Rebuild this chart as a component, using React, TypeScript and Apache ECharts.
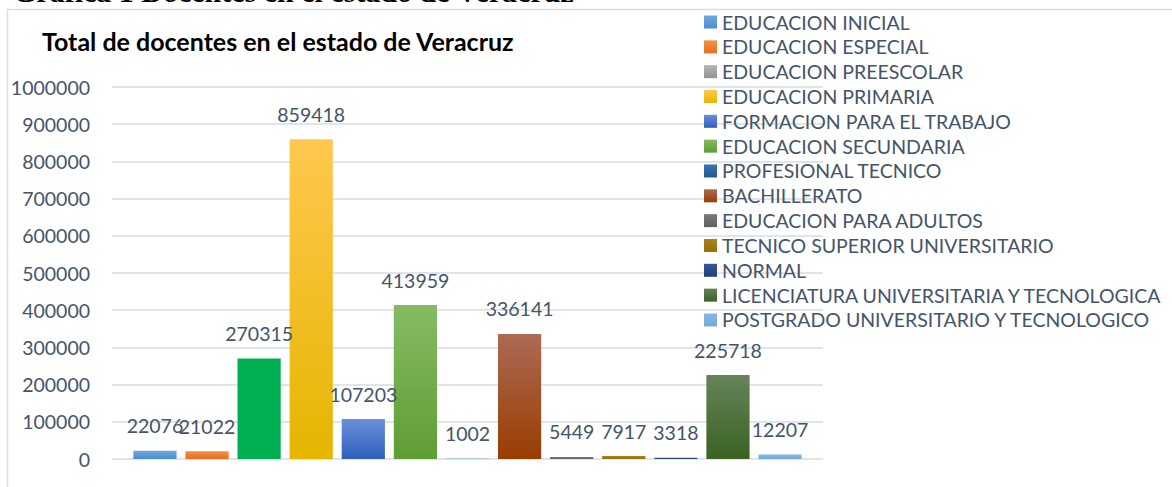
import React, { useEffect, useRef } from "react";
import * as echarts from "echarts";

const chartTitle = "Total de docentes en el estado de Veracruz";
const captionText = "Gráfica 1 Docentes en el estado de Veracruz";
const categories = ["Total"];
const seriesNames = [
  "EDUCACION INICIAL",
  "EDUCACION ESPECIAL",
  "EDUCACION PREESCOLAR",
  "EDUCACION PRIMARIA",
  "FORMACION PARA EL TRABAJO",
  "EDUCACION SECUNDARIA",
  "PROFESIONAL TECNICO",
  "BACHILLERATO",
  "EDUCACION PARA ADULTOS",
  "TECNICO SUPERIOR UNIVERSITARIO",
  "NORMAL",
  "LICENCIATURA UNIVERSITARIA Y TECNOLOGICA",
  "POSTGRADO UNIVERSITARIO Y TECNOLOGICO",
];
const seriesValues = [22076, 21022, 270315, 859418, 107203, 413959, 1002, 336141, 5449, 7917, 3318, 225718, 12207];
const yMin = 0;
const yMax = 1000000;
const yInterval = 100000;

const colorTop = ["#6fa9de", "#f2904e", "#b3b3b3", "#ffc84f", "#6a8fd8", "#86bb63", "#3a73ad", "#ad6a55", "#7a7a7a", "#a88420", "#34569a", "#66835a", "#86b8e6"];
const colorBottom = ["#4a8bd0", "#e96c1c", "#959595", "#e6b500", "#2e5fbf", "#5f9d34", "#215a92", "#993d00", "#606060", "#947000", "#213f78", "#3a6322", "#72aadf"];
const preescolarBar = "#00B050";

const textColor = "#44546A";
const fontFamily = "Lato, 'Open Sans', sans-serif";

export default function App() {
  const ref = useRef<HTMLDivElement>(null);
  useEffect(() => {
    if (!ref.current) return;
    const chart = echarts.init(ref.current, null, { renderer: "svg" });
    const grad = (i: number) =>
      new echarts.graphic.LinearGradient(0, 0, 0, 1, [
        { offset: 0, color: colorTop[i] },
        { offset: 1, color: colorBottom[i] },
      ]);
    chart.setOption({
      animation: false,
      backgroundColor: "#ffffff",
      title: {
        text: chartTitle,
        left: 42,
        top: 28,
        padding: 0,
        textStyle: { fontFamily, fontWeight: "bold", fontSize: 25, lineHeight: 26, color: "#000000" },
      },
      graphic: [
        {
          type: "rect",
          shape: { x: 7.5, y: 9.5, width: 1300, height: 600 },
          style: { fill: "none", stroke: "#dadee3", lineWidth: 1.5 },
          silent: true,
          z: -1,
        },
        {
          type: "text",
          x: 13,
          y: 6.5,
          style: {
            text: captionText,
            fontFamily: "'Liberation Serif', serif",
            fontWeight: "bold",
            fontSize: 30,
            fill: "#000000",
            verticalAlign: "bottom",
          },
          silent: true,
        },
      ],
      legend: {
        orient: "vertical",
        left: 704,
        top: 12,
        padding: 0,
        itemWidth: 13,
        itemHeight: 13,
        itemGap: 4.83,
        icon: "rect",
        textStyle: { fontFamily, fontSize: 19.5, lineHeight: 20, color: textColor },
        data: seriesNames,
      },
      grid: { left: 112, right: 349, top: 87, bottom: 28 },
      xAxis: {
        type: "category",
        data: categories,
        axisLine: { show: false },
        axisTick: { show: false },
        axisLabel: { show: false },
      },
      yAxis: {
        type: "value",
        min: yMin,
        max: yMax,
        interval: yInterval,
        axisLine: { show: false },
        axisTick: { show: false },
        axisLabel: {
          fontFamily,
          fontSize: 19.5,
          color: textColor,
          margin: 22,
          formatter: (v: number) => String(v),
        },
        splitLine: { lineStyle: { color: "#e1e4e9", width: 2 } },
      },
      series: seriesNames.map((name, i) => ({
        type: "bar",
        name,
        barGap: "20.6%",
        barCategoryGap: "6%",
        itemStyle: { color: grad(i) },
        data: [i === 2 ? { value: seriesValues[i], itemStyle: { color: preescolarBar } } : seriesValues[i]],
        label: {
          show: true,
          position: "top",
          distance: 15,
          fontFamily,
          fontSize: 19.5,
          lineHeight: 20,
          color: textColor,
        },
      })),
    });
    return () => chart.dispose();
  }, []);
  return <div ref={ref} style={{ position: "absolute", left: 0, top: 0, width: 1172, height: 487 }} />;
}
